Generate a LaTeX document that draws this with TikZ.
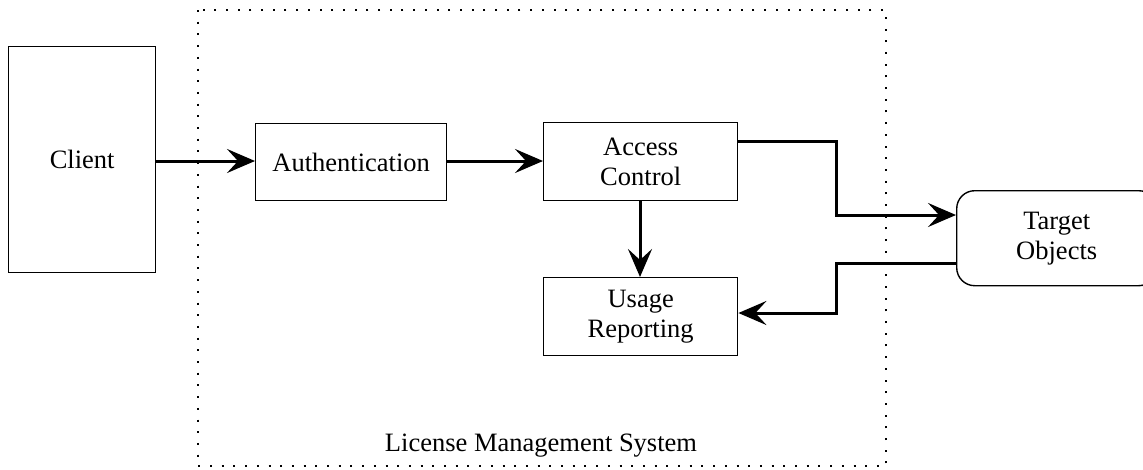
\documentclass[tikz,border=0pt]{standalone}
\usepackage{fontspec}
\setmainfont{Liberation Serif}
\usetikzlibrary{arrows.meta}
\begin{document}
\begin{tikzpicture}[x=1pt,y=-1pt,
  txt/.style={font=\fontsize{26.5}{30}\selectfont},
  box/.style={draw,line width=1.4pt,minimum width=#1,inner sep=0pt,align=center,txt},
  box/.default=190pt,
  conn/.style={line width=3pt,-{Stealth[length=28pt,width=24pt,inset=11pt]}},
  sys/.style={line width=2pt,dash pattern=on 2pt off 9.7pt}]
\useasboundingbox (0,0) rectangle (1143,469);
\draw[sys] (198,10) rectangle (886,466);
\node[box=147pt,minimum height=226pt,anchor=north west] (client) at (8,46) {Client};
\node[box=191pt,minimum height=77pt,anchor=north west] (auth) at (255,123) {Authentication};
\node[box=194pt,minimum height=78pt,anchor=north west] (ac) at (543,122) {Access\\Control};
\node[box=194pt,minimum height=78pt,anchor=north west] (ur) at (543,277) {Usage\\Reporting};
\node[box=200pt,minimum height=95pt,anchor=north west,rounded corners=18pt] (tgt) at (956,190) {Target\\Objects};
\node[txt,anchor=base] (lbl) at (541,451) {License Management System};
\coordinate (c1) at (836,141);
\coordinate (c2) at (836,215);
\coordinate (c3) at (836,263);
\coordinate (c4) at (836,313);
\draw[conn] (client.east |- 0,161) -- (auth.west |- 0,161);
\draw[conn] (auth.east |- 0,161) -- (ac.west |- 0,161);
\draw[conn] (ac.south -| 640,0) -- (ur.north -| 640,0);
\draw[conn] (ac.east |- c1) -- (c1) -- (c2) -- (tgt.west |- c2);
\draw[conn] (tgt.west |- c3) -- (c3) -- (c4) -- (ur.east |- c4);
\end{tikzpicture}
\end{document}
